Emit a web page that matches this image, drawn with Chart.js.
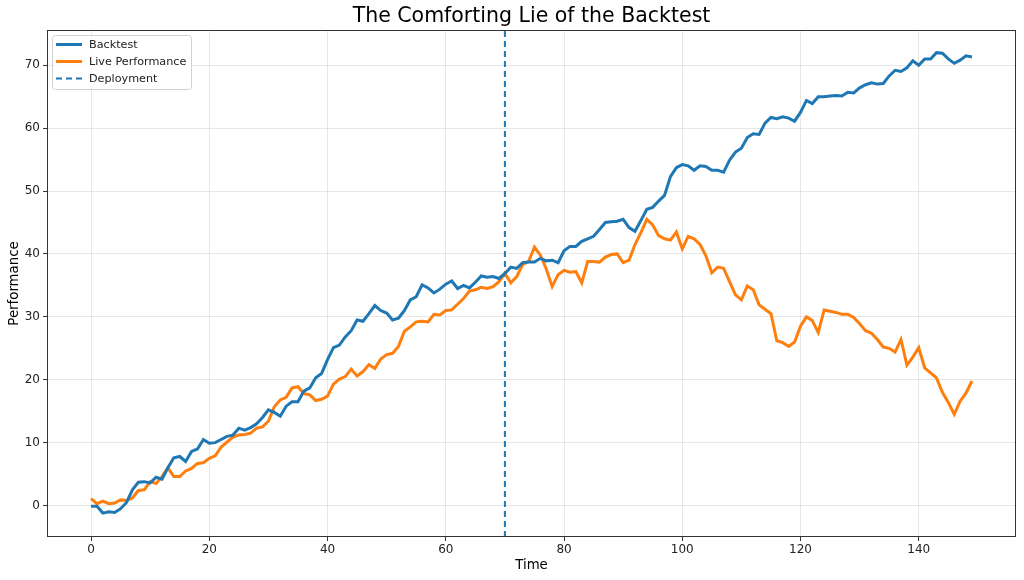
<!DOCTYPE html>
<html>
<head>
<meta charset="utf-8">
<script src="https://cdn.jsdelivr.net/npm/chart.js@4"></script>
<style>
  html, body { margin: 0; padding: 0; background: #fff; }
  #wrap { width: 1024px; height: 580px; }
</style>
</head>
<body>
<div id="wrap"><canvas id="chart" width="1024" height="580"></canvas></div>
<script>
// ===== データ =====
const timeSteps = Array.from({ length: 150 }, (_, i) => i);

const backtest = [
  -0.1, -0.1, -1.2, -1.0, -1.1, -0.5, 0.5, 2.5, 3.7, 3.8,
  3.6, 4.5, 4.2, 6.0, 7.6, 7.8, 7.0, 8.6, 9.0, 10.5,
  9.9, 10.0, 10.5, 11.0, 11.2, 12.3, 12.0, 12.4, 13.0, 14.0,
  15.2, 14.8, 14.2, 15.8, 16.5, 16.5, 18.2, 18.7, 20.3, 21.0,
  23.2, 25.1, 25.5, 26.8, 27.8, 29.5, 29.3, 30.5, 31.8, 31.0,
  30.6, 29.5, 29.8, 31.0, 32.7, 33.2, 35.1, 34.6, 33.8, 34.4,
  35.2, 35.7, 34.5, 35.0, 34.6, 35.5, 36.5, 36.3, 36.4, 36.1,
  36.9, 37.9, 37.7, 38.6, 38.7, 38.7, 39.3, 38.9, 39.0, 38.6,
  40.5, 41.2, 41.2, 42.0, 42.4, 42.8, 43.9, 45.0, 45.1, 45.2,
  45.5, 44.2, 43.6, 45.3, 47.1, 47.4, 48.4, 49.3, 52.3, 53.7,
  54.2, 54.0, 53.3, 54.0, 53.9, 53.3, 53.3, 53.0, 54.9, 56.2,
  56.8, 58.5, 59.1, 59.0, 60.8, 61.7, 61.5, 61.8, 61.6, 61.1,
  62.5, 64.4, 63.9, 65.0, 65.0, 65.1, 65.2, 65.1, 65.7, 65.6,
  66.4, 66.9, 67.2, 67.0, 67.1, 68.3, 69.2, 69.0, 69.6, 70.7,
  70.0, 71.0, 71.0, 72.0, 71.9, 71.0, 70.3, 70.8, 71.5, 71.3
];

const livePerformance = [
  1.1, 0.3, 0.7, 0.3, 0.4, 0.9, 0.8, 1.2, 2.4, 2.5,
  3.8, 3.5, 4.6, 6.0, 4.6, 4.6, 5.5, 5.9, 6.7, 6.8,
  7.5, 7.9, 9.3, 10.1, 10.9, 11.2, 11.3, 11.5, 12.3, 12.5,
  13.4, 15.7, 16.8, 17.2, 18.7, 18.9, 17.8, 17.6, 16.7, 16.9,
  17.4, 19.3, 20.1, 20.5, 21.7, 20.6, 21.3, 22.4, 21.8, 23.3,
  24.0, 24.2, 25.3, 27.7, 28.4, 29.2, 29.3, 29.2, 30.4, 30.3,
  31.0, 31.1, 32.0, 32.9, 34.1, 34.3, 34.7, 34.5, 34.8, 35.6,
  36.9, 35.4, 36.4, 38.3, 38.8, 41.1, 39.8, 37.6, 34.8, 36.7,
  37.4, 37.1, 37.2, 35.4, 38.8, 38.8, 38.7, 39.5, 39.9, 40.0,
  38.6, 39.0, 41.5, 43.4, 45.5, 44.6, 42.9, 42.4, 42.2, 43.5,
  40.8, 42.8, 42.4, 41.5, 39.7, 37.0, 37.9, 37.7, 35.6, 33.5,
  32.7, 34.9, 34.3, 31.9, 31.2, 30.5, 26.2, 25.9, 25.3, 26.0,
  28.5, 30.0, 29.4, 27.5, 31.1, 30.9, 30.7, 30.4, 30.4, 29.9,
  28.9, 27.8, 27.4, 26.4, 25.2, 25.0, 24.4, 26.4, 22.3, 23.6,
  25.1, 21.9, 21.1, 20.3, 18.0, 16.4, 14.5, 16.6, 17.9, 19.8
];

const deploymentTime = 70;
const xTicks = [0, 20, 40, 60, 80, 100, 120, 140];
const yTicks = [0, 10, 20, 30, 40, 50, 60, 70];

const X_MIN = -7.45, X_MAX = 156.45;
const Y_MIN = -5.0, Y_MAX = 75.6;

const FONT = "'DejaVu Sans', sans-serif";
const BLUE = '#1f77b4';
const ORANGE = '#ff7f0e';

// ===== タイトル・枠・凡例 =====
const decorPlugin = {
  id: 'decor',
  afterDraw(chart) {
    const { ctx, chartArea: a } = chart;
    ctx.save();
    // タイトル
    ctx.fillStyle = '#000';
    ctx.font = `20.5px ${FONT}`;
    ctx.textAlign = 'center';
    ctx.textBaseline = 'middle';
    ctx.fillText('The Comforting Lie of the Backtest', (a.left + a.right) / 2, 16.5);

    // 枠
    ctx.strokeStyle = '#333';
    ctx.lineWidth = 1;
    ctx.strokeRect(a.left + 0.5, a.top + 0.5, a.right - a.left - 1, a.bottom - a.top - 1);

    // 凡例
    const bx = a.left + 5, by = a.top + 5, bw = 139, bh = 54;
    ctx.fillStyle = 'rgba(255,255,255,0.8)';
    ctx.strokeStyle = '#d0d0d0';
    ctx.beginPath();
    ctx.roundRect(bx + 0.5, by + 0.5, bw, bh, 3);
    ctx.fill();
    ctx.stroke();

    const items = chart.data.datasets;
    ctx.font = `11.2px ${FONT}`;
    ctx.textAlign = 'left';
    items.forEach((ds, i) => {
      const y = by + 9.5 + i * 17;
      ctx.strokeStyle = ds.borderColor;
      ctx.lineWidth = ds.borderDash ? 2 : 3;
      ctx.setLineDash(ds.borderDash || []);
      ctx.beginPath();
      ctx.moveTo(bx + 4, y);
      ctx.lineTo(bx + 30, y);
      ctx.stroke();
      ctx.setLineDash([]);
      ctx.fillStyle = '#222';
      ctx.fillText(ds.label, bx + 37, y + 0.5);
    });
    ctx.restore();
  }
};

new Chart(document.getElementById('chart'), {
  type: 'line',
  data: {
    datasets: [
      {
        label: 'Backtest',
        data: timeSteps.map((t, i) => ({ x: t, y: backtest[i] })),
        borderColor: BLUE,
        borderWidth: 3,
        pointRadius: 0,
        tension: 0
      },
      {
        label: 'Live Performance',
        data: timeSteps.map((t, i) => ({ x: t, y: livePerformance[i] })),
        borderColor: ORANGE,
        borderWidth: 3,
        pointRadius: 0,
        tension: 0
      },
      {
        label: 'Deployment',
        data: [{ x: deploymentTime, y: Y_MIN }, { x: deploymentTime, y: Y_MAX }],
        borderColor: BLUE,
        borderWidth: 2,
        borderDash: [6, 4],
        pointRadius: 0
      }
    ]
  },
  options: {
    responsive: false,
    animation: false,
    layout: { padding: { top: 30, right: 8, left: 0, bottom: 0 } },
    plugins: {
      legend: { display: false },
      title: { display: false },
      tooltip: { enabled: false }
    },
    scales: {
      x: {
        type: 'linear',
        min: X_MIN, max: X_MAX,
        afterBuildTicks: s => { s.ticks = xTicks.map(v => ({ value: v })); },
        afterFit: s => { s.height = 43; },
        ticks: { color: '#222', font: { family: FONT, size: 12 }, padding: 2, maxRotation: 0 },
        grid: { color: 'rgba(176,176,176,0.3)', tickColor: '#333', tickLength: 4 },
        border: { display: false },
        title: { display: true, text: 'Time', color: '#000', font: { family: FONT, size: 13.3 }, padding: { top: 2, bottom: 6 } }
      },
      y: {
        min: Y_MIN, max: Y_MAX,
        afterBuildTicks: s => { s.ticks = yTicks.map(v => ({ value: v })); },
        afterFit: s => { s.width = 47; },
        ticks: { color: '#222', font: { family: FONT, size: 12 }, padding: 3 },
        grid: { color: 'rgba(176,176,176,0.3)', tickColor: '#333', tickLength: 4 },
        border: { display: false },
        title: { display: true, text: 'Performance', color: '#000', font: { family: FONT, size: 13.3 }, padding: { top: 7, bottom: 2 } }
      }
    }
  },
  plugins: [decorPlugin]
});
</script>
</body>
</html>
